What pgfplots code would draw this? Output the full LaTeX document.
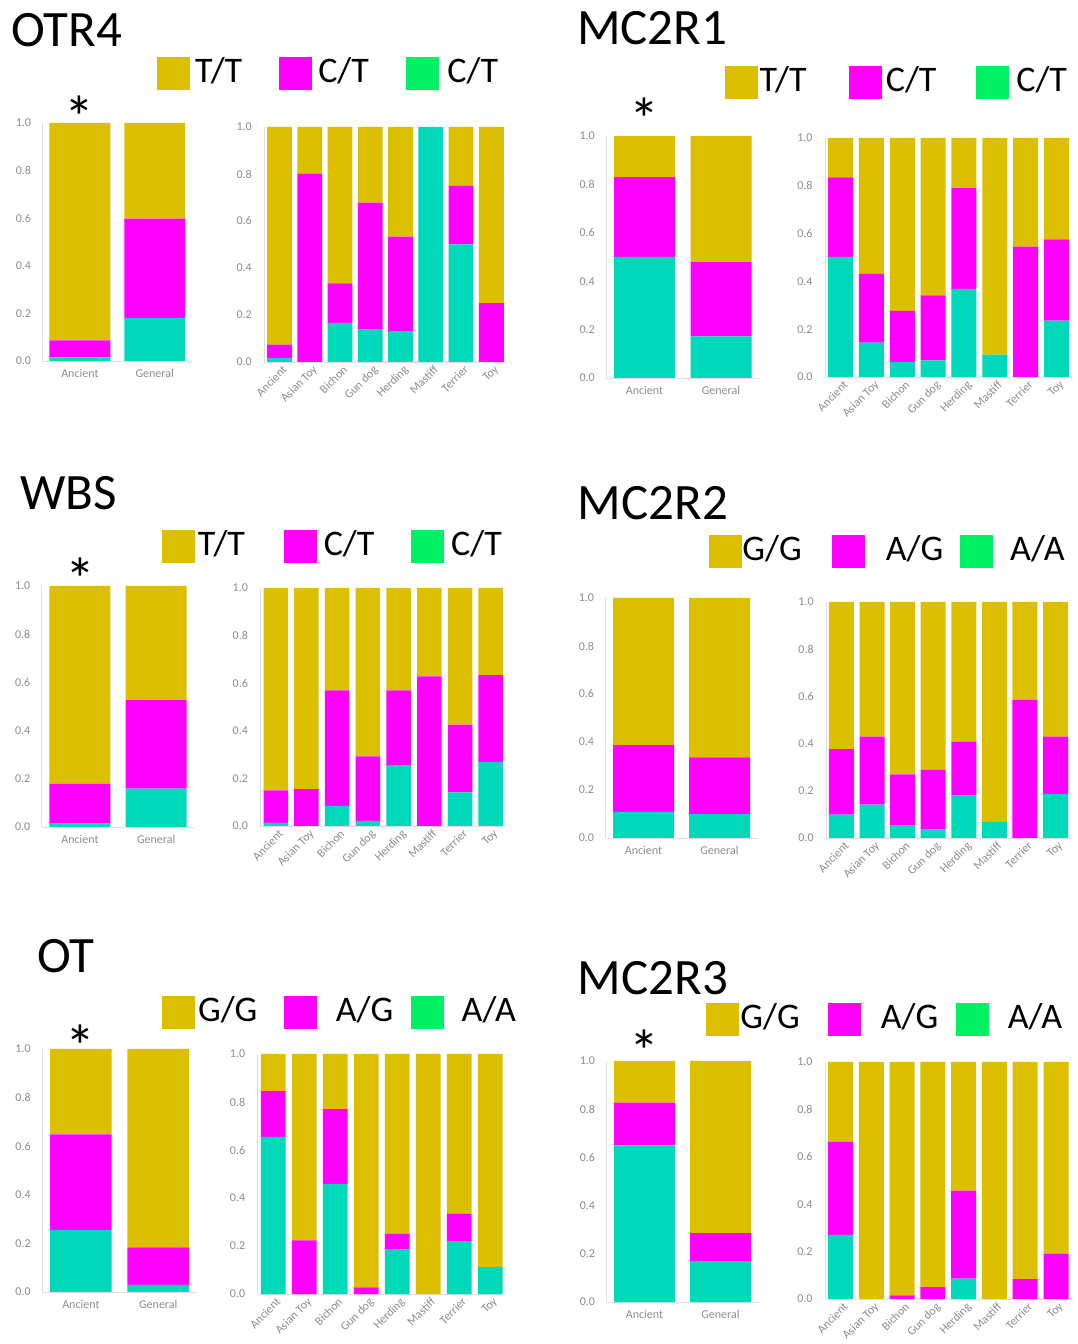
\documentclass[border=0pt]{standalone}
\usepackage{fontspec}
\setmainfont{Carlito}
\usepackage{pgfplots}
\usepackage{pgfplotstable}
\pgfplotsset{compat=1.18}
\definecolor{cYel}{RGB}{219,191,0}
\definecolor{cMag}{RGB}{255,0,255}
\definecolor{cTeal}{RGB}{0,217,185}
\definecolor{cGrn}{RGB}{0,240,100}
\definecolor{cTick}{RGB}{140,140,140}
\newcommand{\LE}[3]{\makebox[#1pt][l]{\hspace{#2pt}\smash{#3}}}
\tikzset{
  ttl/.style={anchor=base west, inner sep=0pt, font=\fontsize{51}{51}\selectfont},
  ast/.style={anchor=base, inner sep=0pt, font=\fontsize{60}{60}\selectfont}
}
\pgfplotsset{
  gbase/.style={scale only axis, ybar stacked, ymin=0, ymax=1, enlargelimits=false,
    xmin=-0.5, ytick={0,0.2,0.4,0.6,0.8,1}, xtick=data,
    yticklabel style={/pgf/number format/fixed, /pgf/number format/fixed zerofill, /pgf/number format/precision=1},
    /pgf/number format/assume math mode=true,
    major tick length=0pt, axis x line*=bottom, axis y line*=left,
    axis line style={-, draw=black!13, line width=0.8pt},
    tick label style={font=\fontsize{12}{14}\selectfont, text=cTick},
    clip=false},
  gleft/.style={gbase, xmax=1.5, xticklabels={Ancient,General},
    xticklabel style={yshift=-5pt}, yticklabel style={xshift=-8pt}},
  gright/.style={gbase, xmax=7.5,
    xticklabels={Ancient,Asian Toy,Bichon,Gun dog,Herding,Mastiff,Terrier,Toy},
    xticklabel style={rotate=45, anchor=north east, xshift=3pt},
    yticklabel style={xshift=-9pt}, legend columns=3, legend cell align=left,
    legend style={draw=none, fill=none, inner sep=0pt, outer sep=0pt, column sep=0pt,
      row sep=0pt, nodes={inner sep=0pt, anchor=base west},
      font=\fontsize{36}{40}\selectfont, anchor=south west}},
  sq/.style={legend image code/.code={\fill[#1] (0pt,-6pt) rectangle (32pt,26pt);}}
}
\newcommand{\bars}[1]{%
  \addplot[fill=cTeal,draw=none] table[x=x,y=aa]{#1};
  \addplot[fill=cMag,draw=none] table[x=x,y=ag]{#1};
  \addplot[fill=cYel,draw=none] table[x=x,y=gg]{#1};}

\pgfplotstableread{
x aa ag gg
0 0.015 0.072 0.913
1 0.181 0.417 0.402
}\tAl
\pgfplotstableread{
x aa ag gg
0 0.017 0.057 0.926
1 0 0.800 0.200
2 0.166 0.168 0.666
3 0.140 0.538 0.322
4 0.131 0.402 0.467
5 1.000 0 0
6 0.500 0.250 0.250
7 0 0.250 0.750
}\tAr
\pgfplotstableread{
x aa ag gg
0 0.500 0.330 0.170
1 0.172 0.307 0.521
}\tBl
\pgfplotstableread{
x aa ag gg
0 0.503 0.332 0.165
1 0.144 0.287 0.569
2 0.063 0.214 0.723
3 0.070 0.271 0.659
4 0.369 0.421 0.210
5 0.094 0 0.906
6 0 0.545 0.455
7 0.236 0.340 0.424
}\tBr
\pgfplotstableread{
x aa ag gg
0 0.014 0.166 0.820
1 0.159 0.367 0.474
}\tCl
\pgfplotstableread{
x aa ag gg
0 0.013 0.137 0.850
1 0 0.155 0.845
2 0.085 0.485 0.430
3 0.021 0.272 0.707
4 0.256 0.314 0.430
5 0 0.629 0.371
6 0.141 0.285 0.574
7 0.269 0.365 0.366
}\tCr
\pgfplotstableread{
x aa ag gg
0 0.109 0.278 0.613
1 0.099 0.237 0.664
}\tDl
\pgfplotstableread{
x aa ag gg
0 0.099 0.278 0.623
1 0.141 0.289 0.570
2 0.052 0.218 0.730
3 0.035 0.254 0.711
4 0.180 0.227 0.593
5 0.068 0 0.932
6 0 0.586 0.414
7 0.187 0.243 0.570
}\tDr
\pgfplotstableread{
x aa ag gg
0 0.256 0.393 0.351
1 0.029 0.155 0.816
}\tEl
\pgfplotstableread{
x aa ag gg
0 0.655 0.190 0.155
1 0 0.223 0.777
2 0.459 0.311 0.230
3 0 0.028 0.972
4 0.187 0.063 0.750
5 0 0 1
6 0.220 0.114 0.666
7 0.112 0 0.888
}\tEr
\pgfplotstableread{
x aa ag gg
0 0.650 0.177 0.173
1 0.170 0.116 0.714
}\tFl
\pgfplotstableread{
x aa ag gg
0 0.271 0.393 0.336
1 0 0 1
2 0 0.015 0.985
3 0 0.050 0.950
4 0.086 0.371 0.543
5 0 0 1
6 0 0.084 0.916
7 0 0.190 0.810
}\tFr

\begin{document}
\begin{tikzpicture}
\path[use as bounding box] (0pt,0pt) rectangle (1078pt,1344pt);
% titles
\node[ttl] at (11pt,1297pt) {OTR4};
\node[ttl] at (577pt,1299pt) {MC2R1};
\node[ttl] at (20pt,834pt) {WBS};
\node[ttl] at (577.5pt,824pt) {MC2R2};
\node[ttl] at (37pt,371pt) {OT};
\node[ttl] at (577.5pt,349pt) {MC2R3};

% ---------- OTR4 ----------
\begin{axis}[gleft, at={(42.5pt,983pt)}, anchor=south west, width=149.6pt, height=238pt, bar width=60.8pt]
\bars{\tAl}
\node[ast] at (axis cs:0,1) [yshift=-16pt] {*};
\end{axis}
\begin{axis}[gright, at={(264.3pt,982pt)}, anchor=south west, width=242.2pt, height=235pt, bar width=24.8pt,
  legend style={at={(-0.444,1.162)}}]
\addlegendimage{sq=cYel}\addlegendentry{\LE{89.7}{6}{T/T}}
\addlegendimage{sq=cMag}\addlegendentry{\LE{94.8}{7}{C/T}}
\addlegendimage{sq=cGrn}\addlegendentry{\LE{60}{9}{C/T}}
\bars{\tAr}
\end{axis}

% ---------- MC2R1 ----------
\begin{axis}[gleft, at={(606.25pt,966pt)}, anchor=south west, width=153pt, height=242pt, bar width=61pt]
\bars{\tBl}
\node[ast] at (axis cs:0,1) [yshift=-5pt] {*};
\end{axis}
\begin{axis}[gright, at={(825.1pt,967pt)}, anchor=south west, width=246.9pt, height=239pt, bar width=25pt,
  legend style={at={(-0.405,1.167)}}]
\addlegendimage{sq=cYel}\addlegendentry{\LE{91}{2}{T/T}}
\addlegendimage{sq=cMag}\addlegendentry{\LE{95}{5}{C/T}}
\addlegendimage{sq=cGrn}\addlegendentry{\LE{60}{8}{C/T}}
\bars{\tBr}
\end{axis}

% ---------- WBS ----------
\begin{axis}[gleft, at={(41.8pt,517pt)}, anchor=south west, width=152.6pt, height=241pt, bar width=61pt]
\bars{\tCl}
\node[ast] at (axis cs:0,1) [yshift=-15pt] {*};
\end{axis}
\begin{axis}[gright, at={(260.4pt,518pt)}, anchor=south west, width=245.7pt, height=238pt, bar width=24.5pt,
  legend style={at={(-0.4025,1.109)}}]
\addlegendimage{sq=cYel}\addlegendentry{\LE{90}{4}{T/T}}
\addlegendimage{sq=cMag}\addlegendentry{\LE{95}{7.5}{C/T}}
\addlegendimage{sq=cGrn}\addlegendentry{\LE{60}{7.5}{C/T}}
\bars{\tCr}
\end{axis}

% ---------- MC2R2 ----------
\begin{axis}[gleft, at={(605.5pt,506pt)}, anchor=south west, width=152pt, height=240pt, bar width=61pt]
\bars{\tDl}
\end{axis}
\begin{axis}[gright, at={(826.2pt,506pt)}, anchor=south west, width=244.6pt, height=236pt, bar width=25pt,
  legend style={at={(-0.479,1.148)}}]
\addlegendimage{sq=cYel}\addlegendentry{\LE{91}{1}{G/G}}
\addlegendimage{sq=cMag}\addlegendentry{\LE{95}{21}{A/G}}
\addlegendimage{sq=cGrn}\addlegendentry{\LE{80}{18}{A/A}}
\bars{\tDr}
\end{axis}

% ---------- OT ----------
\begin{axis}[gleft, at={(42.2pt,52pt)}, anchor=south west, width=154.8pt, height=243pt, bar width=61.7pt]
\bars{\tEl}
\node[ast] at (axis cs:0,1) [yshift=-19pt] {*};
\end{axis}
\begin{axis}[gright, at={(257.7pt,50pt)}, anchor=south west, width=248pt, height=240pt, bar width=24.8pt,
  legend style={at={(-0.386,1.108)}}]
\addlegendimage{sq=cYel}\addlegendentry{\LE{89.6}{3.7}{G/G}}
\addlegendimage{sq=cMag}\addlegendentry{\LE{94.9}{19.5}{A/G}}
\addlegendimage{sq=cGrn}\addlegendentry{\LE{80}{18}{A/A}}
\bars{\tEr}
\end{axis}

% ---------- MC2R3 ----------
\begin{axis}[gleft, at={(606.5pt,42pt)}, anchor=south west, width=152pt, height=241pt, bar width=61pt]
\bars{\tFl}
\node[ast] at (axis cs:0,1) [yshift=-12pt] {*};
\end{axis}
\begin{axis}[gright, at={(825.1pt,45pt)}, anchor=south west, width=246.3pt, height=237pt, bar width=25pt,
  legend style={at={(-0.4836,1.114)}}]
\addlegendimage{sq=cYel}\addlegendentry{\LE{90}{2}{G/G}}
\addlegendimage{sq=cMag}\addlegendentry{\LE{95}{20}{A/G}}
\addlegendimage{sq=cGrn}\addlegendentry{\LE{70}{19.7}{A/A}}
\bars{\tFr}
\end{axis}
\end{tikzpicture}
\end{document}
